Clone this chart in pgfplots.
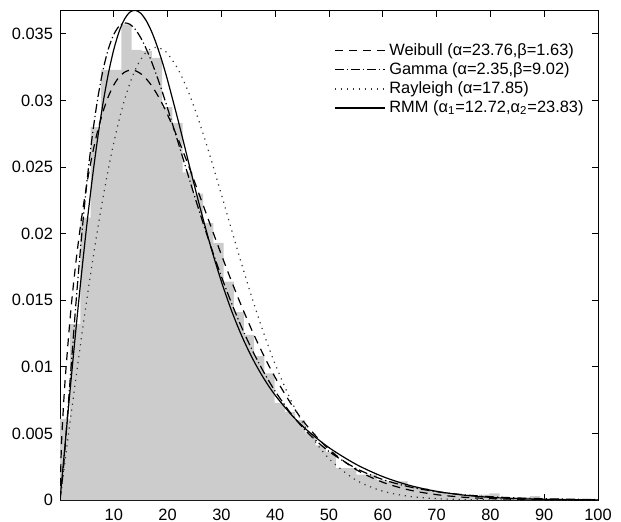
\documentclass[border=0pt]{standalone}
\usepackage{fontspec}
\setmainfont{Liberation Sans}
\usepackage{pgfplots}
\pgfplotsset{compat=1.18}
\definecolor{histgray}{RGB}{204,204,204}

\begin{document}
\begin{tikzpicture}
\useasboundingbox (-30pt,-10.5pt) rectangle (280.5pt,250pt);
\begin{axis}[
  scale only axis, width=269pt, height=244.75pt,
  xmin=0, xmax=100, ymin=0, ymax=0.03675,
  xtick={10,20,...,100},
  ytick={0,0.005,0.01,0.015,0.02,0.025,0.03,0.035},
  yticklabels={0,0.005,0.01,0.015,0.02,0.025,0.03,0.035},
  scaled y ticks=false,
  tick align=inside, major tick length=3pt,
  tick style={black, line width=0.5pt},
  axis line style={black, line width=0.5pt},
  font=\fontsize{8.2}{9.2}\selectfont,
  /pgf/number format/assume math mode=true,
  xticklabel style={yshift=-1pt},
  legend style={draw=none, fill=none, at={(0.985,0.946)}, anchor=north east,
    font=\fontsize{8.2}{9.2}\selectfont, row sep=-1.9pt, inner sep=1pt},
  legend cell align=left,
  legend image code/.code={\draw[#1] (0pt,0pt) -- (25pt,0pt);},
]
% histogram, bins of width 1.9
\addplot[fill=histgray, draw=none, const plot mark left, forget plot] coordinates {
(0,0.0061) (1.9,0.0132) (3.8,0.0212) (5.7,0.0280) (7.6,0.0323) (9.5,0.0323)
(11.4,0.0357) (13.3,0.0338) (15.2,0.0337) (17.1,0.0332) (19.0,0.0295) (20.9,0.0283)
(22.8,0.0246) (24.7,0.0230) (26.6,0.0208) (28.5,0.0193) (30.4,0.0164) (32.3,0.0141)
(34.2,0.0124) (36.1,0.0108) (38.0,0.0095) (39.9,0.0073) (41.8,0.0066) (43.7,0.0060)
(45.6,0.0050) (47.5,0.0041) (49.4,0.0036) (51.3,0.0024) (53.2,0.0024) (55.1,0.0019)
(57.0,0.0019) (58.9,0.0015) (60.8,0.0014) (62.7,0.0014) (64.6,0.0010) (66.5,0.0009)
(68.4,0.0007) (70.3,0.0006) (72.2,0.0005) (74.1,0.0004) (76.0,0.0003) (77.9,0.0004)
(79.8,0.0005) (81.7,0.0002) (83.6,0.0002) (85.5,0.0002) (87.4,0.0003) (89.3,0.0001)
(91.2,0.0001) (93.1,0.0001) (95.0,0)
} \closedcycle;

% Weibull
\addplot[black, line width=0.6pt, dash pattern=on 4pt off 3pt, smooth] coordinates {
(0,0) (0.25,0.003890) (0.5,0.006013) (1,0.009270) (2,0.014175) (3,0.017999) (4,0.021137)
(5,0.023749) (6,0.025923) (7,0.027714) (8,0.029163) (9,0.030302) (10,0.031160)
(11,0.031758) (12,0.032121) (13,0.032271) (14,0.032228) (15,0.032010) (16,0.031636)
(17,0.031124) (18,0.030490) (19,0.029752) (20,0.028923) (22,0.027052) (24,0.024981)
(26,0.022803) (28,0.020591) (30,0.018408) (32,0.016303) (34,0.014307) (36,0.012449)
(38,0.010743) (40,0.009199) (43,0.007188) (46,0.005524) (50,0.003798) (55,0.002292)
(60,0.001330) (65,0.000744) (70,0.000402) (75,0.000210) (80,0.000106) (85,0.0000521)
(90,0.0000248) (95,0.0000114) (100,0.0000051)
};
\addlegendentry{Weibull (α=23.76,β=1.63)}

% Gamma
\addplot[black, line width=0.6pt, dash pattern=on 4.5pt off 1.5pt on 0.6pt off 1.5pt, smooth] coordinates {
(0,0) (0.5,0.001755) (1,0.004235) (2,0.009665) (3,0.014952) (4,0.019733) (5,0.023868)
(6,0.027325) (7,0.030115) (8,0.032279) (9,0.033871) (10,0.034951) (11,0.035578)
(12,0.035814) (13,0.035713) (14,0.035329) (15,0.034708) (16,0.033894) (17,0.032924)
(18,0.031833) (19,0.030650) (20,0.029400) (22,0.026789) (24,0.024137) (26,0.021544)
(28,0.019078) (30,0.016776) (32,0.014663) (34,0.012748) (36,0.011032) (38,0.009510)
(40,0.008166) (43,0.006454) (46,0.005069) (50,0.003641) (55,0.002379) (60,0.001537)
(65,0.000984) (70,0.000624) (75,0.000394) (80,0.000247) (85,0.000154) (90,0.0000955)
(95,0.0000590) (100,0.0000363)
};
\addlegendentry{Gamma (α=2.35,β=9.02)}

% Rayleigh
\addplot[black!80, line width=0.6pt, dash pattern=on 0.6pt off 2.4pt, smooth] coordinates {
(0,0) (1,0.003134) (2,0.006238) (3,0.009283) (4,0.012243) (5,0.015089) (6,0.017797)
(7,0.020344) (8,0.022709) (9,0.024875) (10,0.026827) (11,0.028553) (12,0.030044)
(13,0.031296) (14,0.032305) (15,0.033073) (16,0.033603) (17,0.033901) (18,0.033978)
(19,0.033843) (20,0.033509) (22,0.032306) (24,0.030506) (26,0.028248) (28,0.025678)
(30,0.022933) (32,0.020137) (34,0.017392) (36,0.014784) (38,0.012371) (40,0.010193)
(43,0.007415) (46,0.005218) (50,0.003104) (55,0.001498) (60,0.000663) (65,0.000269)
(70,0.000101) (75,0.0000346) (80,0.0000109) (90,0.0000009) (100,0)
};
\addlegendentry{Rayleigh (α=17.85)}

% RMM
\addplot[black, line width=0.6pt, smooth] coordinates {
(0,0) (1,0.004423) (2,0.008773) (3,0.012980) (4,0.016979) (5,0.020708) (6,0.024116)
(7,0.027161) (8,0.029806) (9,0.032030) (10,0.033822) (11,0.035177) (12,0.036107)
(13,0.036628) (14,0.036762) (15,0.036543) (16,0.036006) (17,0.035192) (18,0.034142)
(19,0.032901) (20,0.031507) (22,0.028428) (24,0.025187) (26,0.022009) (28,0.019048)
(30,0.016397) (32,0.014089) (34,0.012118) (36,0.010453) (38,0.009051) (40,0.007867)
(43,0.006403) (46,0.005215) (50,0.003932) (55,0.002686) (60,0.001757) (65,0.001096)
(70,0.000651) (75,0.000369) (80,0.000199) (85,0.000102) (90,0.0000500) (95,0.0000234)
(100,0.0000104)
};
\addlegendentry{RMM (α\textsubscript{1}=12.72,α\textsubscript{2}=23.83)}
\end{axis}
\end{tikzpicture}
\end{document}
